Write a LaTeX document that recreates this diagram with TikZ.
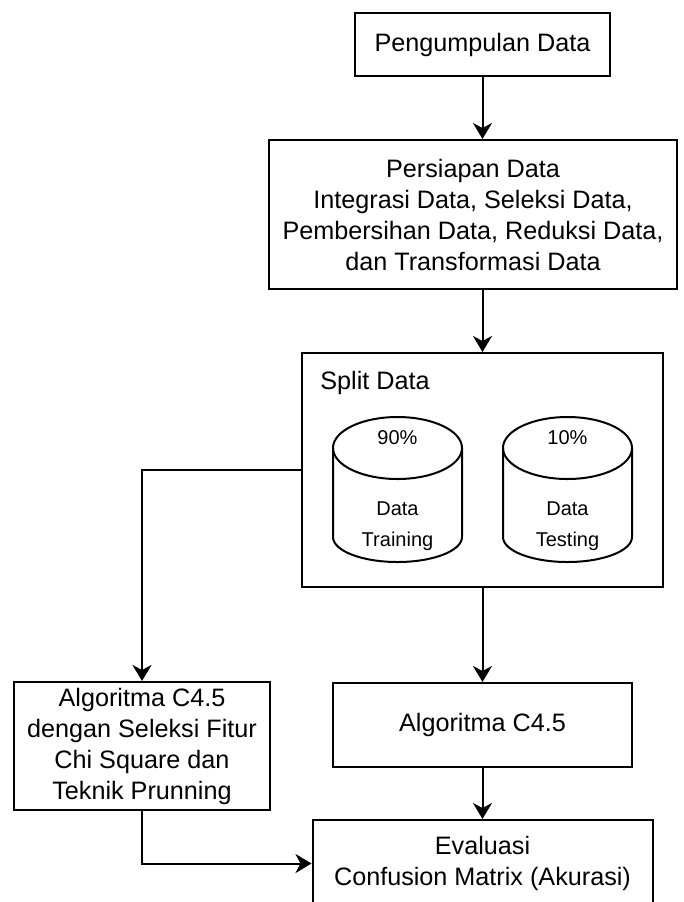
\documentclass[tikz,border=0pt]{standalone}
\usepackage{fontspec}
\setmainfont{Liberation Sans}
\usetikzlibrary{arrows.meta}
\newcommand{\RX}{64.5}
\newcommand{\RT}{31}
\newcommand{\RB}{25}
% database drum: #1 centre x, #2 top y, #3 bottom y
\newcommand{\drum}[3]{%
  \draw[wire] ({#1-\RX},{#2+\RT}) -- ({#1-\RX},{#3-\RB})
    arc[start angle=180, end angle=0, x radius=\RX, y radius=\RB]
    -- ({#1+\RX},{#2+\RT});
  \draw[wire] (#1,{#2+\RT}) ellipse[x radius=\RX, y radius=\RT];}

\begin{document}
\begin{tikzpicture}[
    x=0.5pt, y=-0.5pt,
    wire/.style={draw=black, line width=1pt},
    box/.style={wire, align=center, inner sep=0pt,
      font=\fontsize{12.6}{15.5}\selectfont},
    tag/.style={font=\fontsize{12.6}{15.5}\selectfont, inner sep=0pt},
    small/.style={font=\fontsize{10}{15.5}\selectfont, align=center, inner sep=0pt},
    flow/.style={wire, -{Stealth[length=8pt, width=9.5pt, inset=2.5pt]}},
  ]
  \clip (0,0) rectangle (684,902);

  %% ================= preparation =================
  \node[box, minimum width=127.5pt, minimum height=31.5pt] (collect) at (482.5,44.5) {Pengumpulan Data};
  \node[box, minimum width=204pt, minimum height=74.5pt] (prep) at (473,214.5)
    {Persiapan Data\\Integrasi Data, Seleksi Data,\\Pembersihan Data, Reduksi Data,\\dan Transformasi Data};

  %% ================= split into training / testing =================
  \node[box, minimum width=180.5pt, minimum height=117pt] (split) at (482.5,470) {};
  \node[tag, anchor=west] (splitlbl) at (320,383) {Split Data};
  \drum{397.5}{417}{562}
  \drum{567.5}{417}{562}
  \node[small] (trainpct) at (397.5,438) {90\%};
  \node[small] (train) at (397.5,526) {Data\\Training};
  \node[small] (testpct) at (567.5,438) {10\%};
  \node[small] (test) at (567.5,526) {Data\\Testing};

  %% ================= models and evaluation =================
  \node[box, minimum width=128pt, minimum height=64pt] (fs) at (142,746)
    {Algoritma C4.5\\dengan Seleksi Fitur\\Chi Square dan\\Teknik Prunning};
  \node[box, minimum width=149.5pt, minimum height=42pt] (c45) at (482.5,725) {Algoritma C4.5};
  \node[box, minimum width=170pt, minimum height=43.5pt] (eval) at (482.5,863.5)
    {Evaluasi\\Confusion Matrix (Akurasi)};

  \draw[flow] (collect) -- (collect.south |- prep.north);
  \draw[flow] (split.north |- prep.south) -- (split);
  \draw[flow] (split.west) -| (fs);
  \draw[flow] (split) -- (c45);
  \draw[flow] (c45) -- (eval);
  \draw[flow] (fs) |- (eval);

\end{tikzpicture}
\end{document}
